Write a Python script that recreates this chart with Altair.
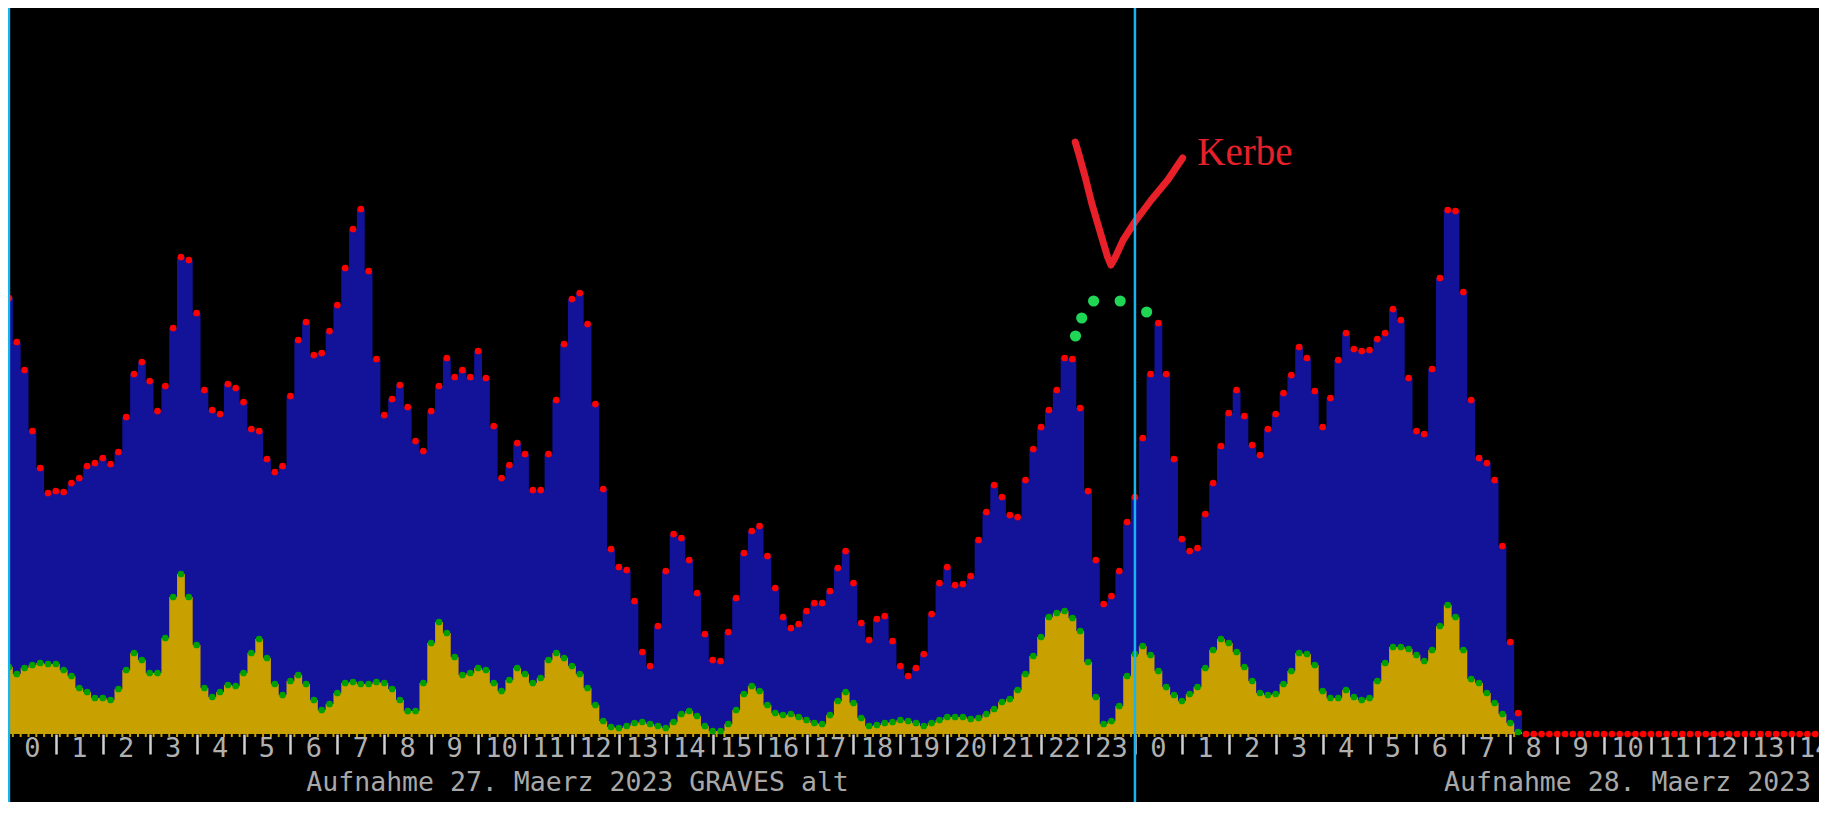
import altair as alt
import pandas as pd

# ---- data (10-minute bins, bin k centred at k/6 hours from 27 March 00:00) ----
BLUE = [436, 392, 364, 303, 266, 241, 243, 242, 251, 256, 268, 271, 276, 270, 282, 317, 360, 372, 353, 323,
        348, 406, 477, 474, 421, 344, 324, 320, 350, 346, 332, 305, 303, 275, 262, 268, 338, 394, 412, 379,
        381, 403, 429, 466, 505, 525, 463, 375, 319, 335, 349, 327, 293, 283, 323, 348, 376, 357, 364, 357,
        383, 356, 308, 256, 269, 291, 280, 244, 244, 280, 334, 390, 435, 441, 410, 330, 245, 185, 167, 164,
        133, 82, 68, 108, 163, 200, 196, 174, 141, 100, 74, 73, 102, 136, 181, 203, 208, 178, 146, 117,
        106, 110, 123, 131, 131, 143, 166, 183, 151, 111, 94, 115, 118, 93, 68, 58, 66, 80, 120, 151,
        167, 149, 150, 158, 194, 222, 249, 237, 219, 217, 254, 285, 307, 324, 344, 376, 375, 326, 243, 174,
        130, 138, 163, 212, 237, 296, 360, 411, 360, 275, 195, 183, 186, 220, 251, 288, 321, 344, 318, 289,
        279, 305, 320, 341, 359, 387, 376, 343, 307, 336, 374, 401, 385, 383, 384, 395, 401, 425, 414, 356,
        303, 300, 365, 456, 524, 523, 442, 334, 276, 271, 254, 188, 92, 21]
YELLOW = [67, 60, 66, 69, 71, 70, 70, 64, 58, 46, 42, 36, 36, 34, 45, 64, 81, 74, 61, 61,
          96, 137, 160, 137, 89, 46, 37, 42, 49, 48, 61, 81, 95, 76, 50, 39, 53, 59, 50, 34,
          24, 30, 41, 51, 52, 50, 50, 52, 51, 45, 34, 23, 23, 51, 91, 112, 101, 77, 59, 61,
          66, 64, 51, 43, 54, 66, 60, 51, 56, 74, 81, 76, 68, 60, 46, 29, 13, 7, 6, 8,
          11, 12, 10, 8, 6, 12, 20, 23, 18, 8, 3, 3, 10, 24, 40, 48, 43, 29, 21, 19,
          20, 17, 14, 11, 10, 19, 33, 42, 31, 16, 8, 9, 11, 12, 14, 13, 11, 8, 11, 14,
          17, 17, 17, 15, 16, 20, 25, 32, 35, 44, 60, 78, 97, 117, 121, 123, 116, 103, 72, 37,
          10, 13, 28, 58, 80, 88, 79, 63, 47, 39, 33, 40, 47, 66, 84, 95, 91, 82, 67, 53,
          41, 39, 40, 50, 63, 81, 80, 69, 43, 36, 36, 44, 37, 34, 36, 53, 71, 87, 87, 85,
          79, 73, 84, 108, 129, 117, 84, 55, 51, 41, 31, 20, 11, 2]
TOTAL_BINS = 232          # bins up to the right edge (zeros after the data end)
DAY1_LABELS = list(range(24))
DAY2_LABELS = list(range(15))
TITLE_TEXTS = ["Aufnahme 27. Maerz 2023 GRAVES alt", "Aufnahme 28. Maerz 2023"]
TITLE_POS = [12.12, 34.5]
MIDNIGHTS = [0, 24]
NOTE_TEXT = "Kerbe"
NOTE_TEXT_POS = (25.33, 569)
NOTE_LINE_H = [22.727, 22.797, 22.939, 23.078, 23.290, 23.417, 23.488, 23.573, 23.749, 23.996, 24.347, 24.699, 25.016]
NOTE_LINE_V = [592, 581, 557, 531, 497, 477, 469, 476, 494, 512, 534, 554, 576]
NOTE_DOTS_H = [22.733, 22.866, 23.119, 23.685, 24.249]
NOTE_DOTS_V = [398, 416, 433, 433, 422]

# ---- layout ----
W, H, BOTTOM = 1811, 726, 68
XDOM = [-0.02, 38.58]
YDOM = [0, 726]
C_BLUE, C_YEL, C_RED, C_GRN = "#13139a", "#c8a000", "#ff0000", "#00a000"
C_CYAN, C_NOTE, C_NOTEDOT, C_TXT = "#18b4f0", "#e8202a", "#1fd655", "#b0b0b0"
FONT = "DejaVu Sans Mono"

n = len(BLUE)
bins = pd.DataFrame({
    "t": [k / 6 for k in range(TOTAL_BINS)],
    "blue": BLUE + [0] * (TOTAL_BINS - n),
    "yellow": YELLOW + [0] * (TOTAL_BINS - n),
})
data_bins = bins.iloc[:n]
edges = pd.DataFrame({"b": [k / 6 + 1 / 12 for k in range(n - 1)]})
hours = DAY1_LABELS + [24 + h for h in DAY2_LABELS]
labels = pd.DataFrame({"xc": [h + 0.5 for h in hours], "lab": [str(h) for h in DAY1_LABELS + DAY2_LABELS]})
titles = pd.DataFrame({"xc": TITLE_POS, "txt": TITLE_TEXTS})
mid = pd.DataFrame({"m": MIDNIGHTS})
vline = pd.DataFrame({"h": NOTE_LINE_H, "v": NOTE_LINE_V, "i": list(range(len(NOTE_LINE_H)))})
vdots = pd.DataFrame({"h": NOTE_DOTS_H, "v": NOTE_DOTS_V})
note = pd.DataFrame({"h": [NOTE_TEXT_POS[0]], "v": [NOTE_TEXT_POS[1]], "txt": [NOTE_TEXT]})

xscale = alt.Scale(domain=XDOM, nice=False, zero=False)
yscale = alt.Scale(domain=YDOM, nice=False, zero=True)
xaxis = alt.Axis(values=list(range(1, 39)), labels=False, domain=False, grid=False, title=None,
                 tickColor="#d0d0d0", tickSize=20, tickWidth=2.5)


def X(field):
    return alt.X(f"{field}:Q", scale=xscale, axis=xaxis)


def Y(field):
    return alt.Y(f"{field}:Q", scale=yscale, axis=None, stack=None)


blue = alt.Chart(bins).mark_area(interpolate="step", color=C_BLUE).encode(x=X("t"), y=Y("blue"))
yel = alt.Chart(bins).mark_area(interpolate="step", color=C_YEL).encode(x=X("t"), y=Y("yellow"))
scallop = alt.Chart(edges).mark_rule(color=C_YEL, strokeWidth=2).encode(
    x=X("b"), y=alt.value(H), y2=alt.value(H + 3))
gdots = alt.Chart(data_bins).mark_circle(color=C_GRN, size=45, opacity=1).encode(x=X("t"), y=Y("yellow"))
rdots = alt.Chart(bins).mark_circle(color=C_RED, size=45, opacity=1).encode(x=X("t"), y=Y("blue"))
vl = alt.Chart(vline).mark_line(color=C_NOTE, strokeWidth=7, strokeCap="round", strokeJoin="round").encode(
    x=X("h"), y=Y("v"), order="i:Q")
vd = alt.Chart(vdots).mark_circle(color=C_NOTEDOT, size=125, opacity=1).encode(x=X("h"), y=Y("v"))
nt = alt.Chart(note).mark_text(color=C_NOTE, font="Liberation Serif", fontSize=39, align="left",
                               baseline="alphabetic").encode(x=X("h"), y=Y("v"), text="txt:N")
cyan = alt.Chart(mid).mark_rule(color=C_CYAN, strokeWidth=2.5).encode(
    x=X("m"), y=alt.value(0), y2=alt.value(H + BOTTOM))
lab = alt.Chart(labels).mark_text(color=C_TXT, font=FONT, fontSize=27, align="center",
                                  baseline="middle").encode(x=X("xc"), y=alt.value(H + 15), text="lab:N")
tit = alt.Chart(titles).mark_text(color="#a8a8a8", font=FONT, fontSize=26.5, align="center",
                                  baseline="middle").encode(x=X("xc"), y=alt.value(H + 49), text="txt:N")

chart = alt.layer(blue, yel, scallop, gdots, rdots, vl, vd, nt, cyan, lab, tit).properties(
    width=W, height=H,
    autosize=alt.AutoSizeParams(type="none"),
    padding={"left": 0, "right": 0, "top": 0, "bottom": BOTTOM},
    background="#000000",
).configure_view(strokeWidth=0)

chart.save("out.html", embed_options={"renderer": "svg", "actions": False})
